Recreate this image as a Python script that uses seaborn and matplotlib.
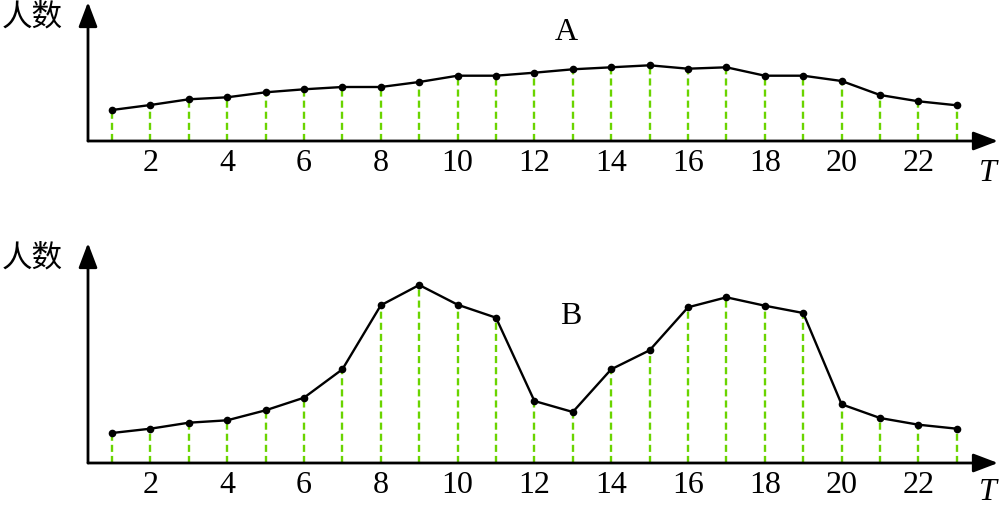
import numpy as np
import pandas as pd
import seaborn as sns
import matplotlib
matplotlib.use("Agg")
import matplotlib.pyplot as plt

# time points (hours) and visitor counts for the two places
hours = list(range(1, 24))
count_a = [31, 36, 41.7, 43.7, 48.7, 51.7, 54, 54, 59, 65.3, 65.3, 68.3,
           71.7, 73.7, 75.7, 72.3, 73.7, 65.3, 65.3, 60, 46, 39.7, 35.7]
count_b = [30, 34.3, 40.3, 42.7, 52.7, 65.3, 93.7, 157.7, 178, 158.3, 145.3,
           62, 51, 93.7, 112.7, 155.7, 165.7, 157.3, 150, 58.7, 45, 38.3, 34.3]
tick_values = list(range(2, 23, 2))
tick_labels = [str(v) for v in tick_values]
panel_names = ["A", "B"]

sns.set_theme(style="white")
plt.rcParams["font.family"] = ["Liberation Serif", "Noto Sans CJK SC"]
plt.rcParams["text.color"] = "black"
plt.rcParams["xtick.color"] = "black"
plt.rcParams["xtick.labelcolor"] = "black"

W, H = 1000, 505
fig = plt.figure(figsize=(10, 5.05), dpi=100)

GREEN = "#6ad400"


def px_axes(left, right, top, bottom):
    return fig.add_axes([left / W, 1 - bottom / H, (right - left) / W, (bottom - top) / H])


def draw_panel(ax, values, ymax, name, name_xy):
    df = pd.DataFrame({"T": hours, "n": values})
    ax.vlines(df["T"], 0, df["n"], colors=GREEN, linewidth=1.7,
              linestyles=(0, (3.0, 1.7)), zorder=1)
    sns.lineplot(data=df, x="T", y="n", ax=ax, color="black", linewidth=1.7,
                 marker="o", markersize=5.5, markeredgewidth=0, zorder=3)
    ax.set_xlim(1 + (88 - 112) / 38.4, 1 + (998 - 112) / 38.4)
    ax.set_ylim(0, ymax)
    for s in ax.spines.values():
        s.set_visible(False)
    ax.set_xlabel("")
    ax.set_ylabel("")
    ax.set_yticks([])
    ax.set_xticks(tick_values)
    ax.set_xticklabels(tick_labels, fontsize=23, color="black")
    ax.tick_params(axis="x", length=0, pad=6)
    arrow = dict(arrowstyle="-|>,head_length=1.0,head_width=0.38", color="black",
                 lw=2, shrinkA=0, shrinkB=0, mutation_scale=15)
    ax.annotate("", xy=(1, 0), xytext=(0, 0), xycoords="axes fraction",
                textcoords="axes fraction", arrowprops=arrow, annotation_clip=False)
    ax.annotate("", xy=(0, 1), xytext=(0, 0), xycoords="axes fraction",
                textcoords="axes fraction", arrowprops=arrow, annotation_clip=False)
    ax.text(name_xy[0] / W, 1 - name_xy[1] / H, name, transform=fig.transFigure,
            fontsize=23, ha="center", va="center", color="black")


ax_a = px_axes(88, 998, 2, 141)
draw_panel(ax_a, count_a, 139, panel_names[0], (566, 32))
ax_b = px_axes(88, 998, 243, 463)
draw_panel(ax_b, count_b, 220, panel_names[1], (571, 317))

for y in (17, 258):
    fig.text(32 / W, 1 - y / H, "人数", fontsize=22, ha="center", va="center",
             color="black", family=["Noto Sans CJK SC", "DejaVu Sans"])
for y in (173, 492):
    fig.text(988 / W, 1 - y / H, "T", fontsize=23, style="italic",
             ha="center", va="center", color="black")

fig.savefig("out.png", dpi=100)
